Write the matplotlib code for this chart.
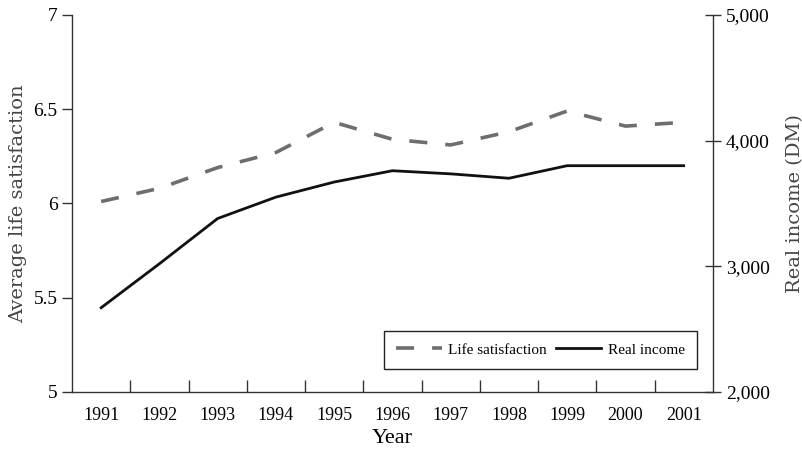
import matplotlib
matplotlib.use("Agg")
import matplotlib.pyplot as plt
import numpy as np

years = [1991, 1992, 1993, 1994, 1995, 1996, 1997, 1998, 1999, 2000, 2001]
life_sat = [6.01, 6.08, 6.19, 6.27, 6.43, 6.34, 6.31, 6.38, 6.49, 6.41, 6.43]
income = [2670, 3020, 3380, 3550, 3670, 3760, 3735, 3700, 3800, 3800, 3800]

plt.rcParams['font.family'] = ['Liberation Serif', 'DejaVu Serif']

fig = plt.figure(figsize=(8.03, 4.5), dpi=100)
ax = fig.add_axes([0.0897, 0.129, 0.798, 0.838])
ax2 = ax.twinx()

ax.plot(years, life_sat, color='#6e6e6e', lw=2.6, dashes=(5, 5), label='Life satisfaction')
ax2.plot(years, income, color='#111111', lw=2.0, label='Real income')

ax.set_xlim(1990.5, 2001.5)
ax.set_ylim(5, 7)
ax2.set_ylim(2000, 5000)

ax.set_xticks(years)
ax.set_xticks(np.arange(1991.5, 2001, 1.0), minor=True)
ax.tick_params(axis='x', which='major', length=0, labelsize=13, pad=11)
ax.tick_params(axis='x', which='minor', direction='in', length=9, width=1, color='#333333')
ax.set_yticks([5, 5.5, 6, 6.5, 7])
ax.set_yticklabels(['5', '5.5', '6', '6.5', '7'])
ax.tick_params(axis='y', direction='out', length=7, width=1, labelsize=14, color='#333333')

ax2.set_yticks([2000, 3000, 4000, 5000])
ax2.set_yticklabels(['2,000', '3,000', '4,000', '5,000'])
ax2.tick_params(axis='y', direction='inout', length=12, width=1, labelsize=14, color='#333333')

for a in (ax, ax2):
    a.spines['top'].set_visible(False)
    for s in ('left', 'right', 'bottom'):
        a.spines[s].set_color('#333333')
        a.spines[s].set_linewidth(1)
ax.spines['right'].set_visible(False)
ax2.spines['left'].set_visible(False)
ax2.spines['bottom'].set_visible(False)

ax.set_xlabel('Year', fontsize=16)
ax.xaxis.set_label_coords(0.5, -0.098)
ax.set_ylabel('Average life satisfaction', fontsize=14, color='#444444',
              family=['DejaVu Serif'])
ax.yaxis.set_label_coords(-0.070, 0.5)
ax2.set_ylabel('Real income (DM)', fontsize=14, color='#444444',
               family=['DejaVu Serif'])
ax2.yaxis.set_label_coords(1.114, 0.5)

h1, l1 = ax.get_legend_handles_labels()
h2, l2 = ax2.get_legend_handles_labels()
leg = ax2.legend(h1 + h2, l1 + l2, ncol=2, loc='lower right',
                 bbox_to_anchor=(0.975, 0.061), borderaxespad=0,
                 fancybox=False, framealpha=1,
                 edgecolor='#222222', fontsize=11, handlelength=3.0,
                 columnspacing=0.6, handletextpad=0.4, borderpad=0.8)
leg.get_frame().set_linewidth(1)

fig.savefig('out.png', dpi=100)
